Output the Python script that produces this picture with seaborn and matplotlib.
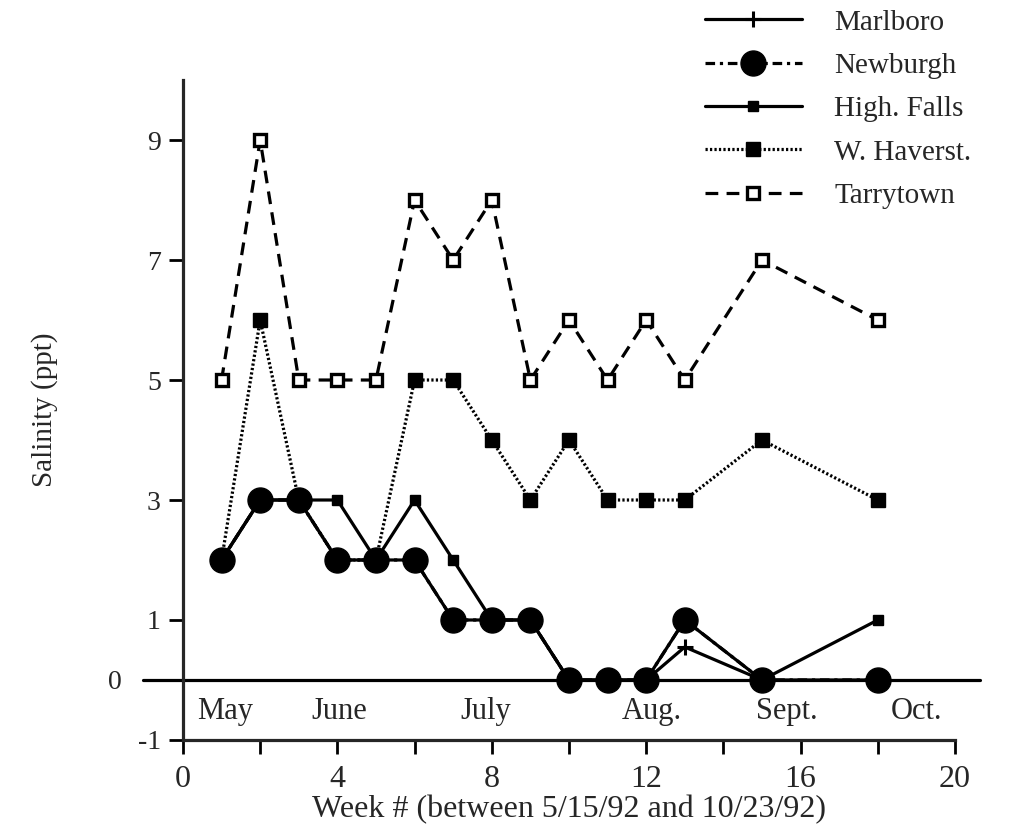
import numpy as np
import matplotlib.pyplot as plt
import seaborn as sns
from matplotlib.lines import Line2D

sns.set_style("ticks")
plt.rcParams['font.family'] = ['Liberation Serif', 'DejaVu Serif']
plt.rcParams['axes.unicode_minus'] = False

weeks = [1, 2, 3, 4, 5, 6, 7, 8, 9, 10, 11, 12, 13, 15, 18]
marlboro = [2, 3, 3, 2, 2, 2, 1, 1, 1, 0, 0, 0, 0.55, 0, 0]
newburgh = [2, 3, 3, 2, 2, 2, 1, 1, 1, 0, 0, 0, 1, 0, 0]
high_falls = [2, 3, 3, 3, 2, 3, 2, 1, 1, 0, 0, 0, 1, 0, 1]
w_haverst = [2, 6, 3, 2, 2, 5, 5, 4, 3, 4, 3, 3, 3, 4, 3]
tarrytown = [5, 9, 5, 5, 5, 8, 7, 8, 5, 6, 5, 6, 5, 7, 6]

months = ["May", "June", "July", "Aug.", "Sept.", "Oct."]
month_pos = [1.1, 4.05, 7.85, 12.15, 15.65, 19.0]

lw = 2.3
styles = {
    "Tarrytown": dict(y=tarrytown, ls=(0, (4, 2.6)), marker="s", ms=9, mfc="white", mew=2.4),
    "W. Haverst.": dict(y=w_haverst, ls=(0, (0.7, 0.7)), marker="s", ms=10, mfc="black", mew=1),
    "High. Falls": dict(y=high_falls, ls="-", marker="s", ms=7.5, mfc="black", mew=1),
    "Marlboro": dict(y=marlboro, ls="-", marker="+", ms=12, mfc="black", mew=2.2),
    "Newburgh": dict(y=newburgh, ls=(0, (3, 1.5, 1, 1.5)), marker="o", ms=18, mfc="black", mew=1),
}

fig = plt.figure(figsize=(10.25, 8.32), dpi=100)
ax = fig.add_axes([0.1785, 0.1106, 0.7532, 0.7932])

for name, s in styles.items():
    sns.lineplot(x=weeks, y=s["y"], ax=ax, color="black", lw=lw, linestyle=s["ls"],
                 marker=s["marker"], markersize=s["ms"], markerfacecolor=s["mfc"],
                 markeredgecolor="black", markeredgewidth=s["mew"], sort=False,
                 clip_on=False, zorder=3)

ax.axhline(0, xmin=-0.052, xmax=1.032, color="black", lw=2.3, clip_on=False, zorder=2)

for m, p in zip(months, month_pos):
    ax.text(p, -0.52, m, ha="center", va="center", fontsize=22)

ax.set_xlim(0, 20)
ax.set_ylim(-1, 10)
ax.set_xticks([0, 4, 8, 12, 16, 20])
ax.set_xticks([2, 6, 10, 14, 18], minor=True)
ax.set_yticks([-1, 0, 1, 3, 5, 7, 9])
ax.tick_params(which="both", width=2, length=10, direction="out", color="black")
ax.tick_params(axis="x", labelsize=23, pad=8)
ax.tick_params(axis="y", labelsize=20, pad=6)
zero_tick = ax.yaxis.get_major_ticks()[1]
zero_tick.tick1line.set_visible(False)
zero_tick.set_pad(34)
for sp in ["top", "right"]:
    ax.spines[sp].set_visible(False)
for sp in ["left", "bottom"]:
    ax.spines[sp].set_linewidth(2.3)
ax.set_xlabel("Week # (between 5/15/92 and 10/23/92)", fontsize=23, labelpad=1)
ax.set_ylabel("Salinity (ppt)", fontsize=21, labelpad=36)

order = ["Marlboro", "Newburgh", "High. Falls", "W. Haverst.", "Tarrytown"]
handles = []
for name in order:
    s = styles[name]
    handles.append(Line2D([], [], color="black", lw=lw, linestyle=s["ls"], marker=s["marker"],
                          markersize=s["ms"], markerfacecolor=s["mfc"], markeredgecolor="black",
                          markeredgewidth=s["mew"]))
fig.legend(handles, order, loc="upper left", bbox_to_anchor=(0.676, 1.003), frameon=False,
           fontsize=21, handlelength=3.35, handletextpad=1.1, labelspacing=0.58, borderaxespad=0)

fig.savefig("out.png", dpi=100, facecolor="white")
